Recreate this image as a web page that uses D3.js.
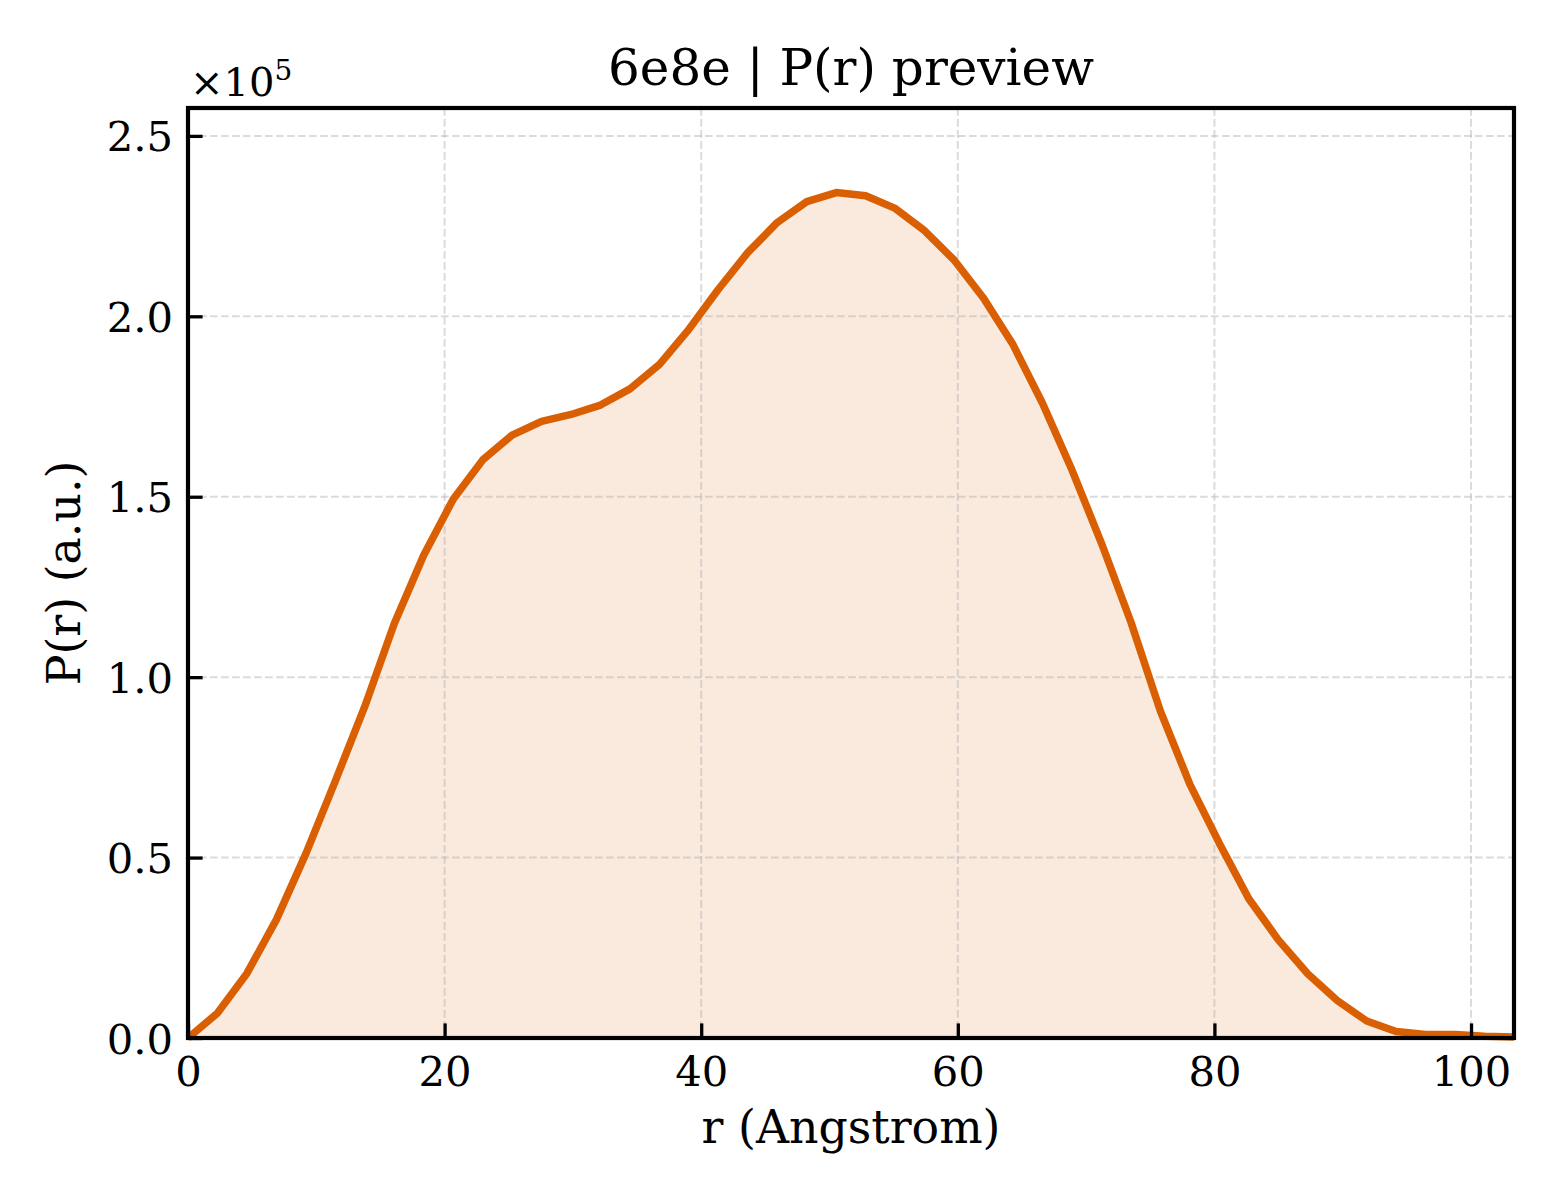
<!DOCTYPE html>
<html>
<head>
<meta charset="utf-8">
<script src="https://cdn.jsdelivr.net/npm/d3@7"></script>
<style>
  body { margin: 0; background: #fff; }
  text { font-family: "DejaVu Serif", serif; fill: #000; }
</style>
</head>
<body>
<div id="chart"></div>
<script>
// distance grid (Angstrom) and P(r)
var rValues = [0.00, 2.30, 4.59, 6.89, 9.19, 11.48, 13.78, 16.08, 18.37, 20.67,
  22.97, 25.26, 27.56, 29.86, 32.15, 34.45, 36.75, 39.04, 41.34, 43.64,
  45.93, 48.23, 50.53, 52.82, 55.12, 57.42, 59.71, 62.01, 64.31, 66.60,
  68.90, 71.20, 73.49, 75.79, 78.09, 80.38, 82.68, 84.98, 87.27, 89.57,
  91.87, 94.16, 96.46, 98.76, 101.05, 103.35];
var prValues = [0, 6900, 17900, 32800, 51100, 71200, 91900, 114900, 133800, 149300,
  160200, 167100, 170900, 172800, 175400, 179900, 186700, 196400, 207500, 217700,
  226000, 231800, 234300, 233400, 229900, 223700, 215600, 205000, 192100, 175900,
  157400, 137100, 115300, 90600, 70300, 54000, 38600, 27200, 17800, 10400,
  4700, 1800, 1000, 1000, 500, 300];
var xTicks = [0, 20, 40, 60, 80, 100];
var yTicks = [0, 50000, 100000, 150000, 200000, 250000];

var titleText = "6e8e | P(r) preview",
    xLabel = "r (Angstrom)",
    yLabel = "P(r) (a.u.)";

var width = 1560,
    height = 1200,
    margin = {left: 188, right: 46, top: 108, bottom: 162};
var plotW = width - margin.left - margin.right,
    plotH = height - margin.top - margin.bottom;

var lineColor = "#d95f02";

var data = rValues.map(function(r, i) { return {r: r, p: prValues[i]}; });

var svg = d3.select("#chart").append("svg")
    .attr("width", width)
    .attr("height", height)
    .style("background", "#fff");

var x = d3.scaleLinear()
    .domain([0, d3.max(rValues)])
    .range([0, plotW]);
var y = d3.scaleLinear()
    .domain([0, 1.1 * d3.max(prValues)])
    .range([plotH, 0]);

var g = svg.append("g")
    .attr("transform", "translate(" + margin.left + "," + margin.top + ")");

/* filled area under the curve */
g.append("path")
    .datum(data)
    .attr("fill", lineColor)
    .attr("fill-opacity", 0.13)
    .attr("d", d3.area()
        .x(function(d) { return x(d.r); })
        .y0(y(0))
        .y1(function(d) { return y(d.p); }));

/* dashed grid */
g.append("g").selectAll("line.gx")
    .data(xTicks)
    .enter().append("line")
    .attr("x1", function(d) { return x(d); })
    .attr("x2", function(d) { return x(d); })
    .attr("y1", 0).attr("y2", plotH)
    .attr("stroke", "#b0b0b0").attr("stroke-opacity", 0.45)
    .attr("stroke-width", 2).attr("stroke-dasharray", "7.7,3.3");
g.append("g").selectAll("line.gy")
    .data(yTicks)
    .enter().append("line")
    .attr("y1", function(d) { return y(d); })
    .attr("y2", function(d) { return y(d); })
    .attr("x1", 0).attr("x2", plotW)
    .attr("stroke", "#b0b0b0").attr("stroke-opacity", 0.45)
    .attr("stroke-width", 2).attr("stroke-dasharray", "7.7,3.3");

/* the P(r) curve */
g.append("path")
    .datum(data)
    .attr("fill", "none")
    .attr("stroke", lineColor)
    .attr("stroke-width", 7.5)
    .attr("stroke-linejoin", "round")
    .attr("d", d3.line()
        .x(function(d) { return x(d.r); })
        .y(function(d) { return y(d.p); }));

/* axes, ticks pointing inward */
var xAxis = g.append("g")
    .attr("transform", "translate(0," + plotH + ")")
    .call(d3.axisBottom(x).tickValues(xTicks).tickSize(-14.6).tickPadding(0)
        .tickFormat(d3.format("d")));
var yAxis = g.append("g")
    .call(d3.axisLeft(y).tickValues(yTicks).tickSize(-14.6).tickPadding(0)
        .tickFormat(function(d) { return (d / 1e5).toFixed(1); }));

[xAxis, yAxis].forEach(function(ax) {
  ax.select(".domain").remove();
  ax.selectAll(".tick line").attr("stroke", "#000").attr("stroke-width", 3.3);
  ax.selectAll(".tick text")
      .style("font-family", "DejaVu Serif, serif")
      .style("font-size", "41.7px")
      .attr("fill", "#000");
});
xAxis.selectAll(".tick text").attr("y", 48).attr("dy", 0);
yAxis.selectAll(".tick text").attr("x", -15).attr("dy", "0.36em");

/* frame */
g.append("rect")
    .attr("width", plotW).attr("height", plotH)
    .attr("fill", "none")
    .attr("stroke", "#000")
    .attr("stroke-width", 4.2);

/* offset text */
var off = svg.append("text")
    .attr("x", margin.left + 2)
    .attr("y", 96)
    .style("font-size", "40px");
off.append("tspan").text("\u00d710");
off.append("tspan").attr("dy", -16).style("font-size", "28px").text("5");

/* title and labels */
svg.append("text")
    .attr("x", margin.left + plotW / 2)
    .attr("y", 85)
    .attr("text-anchor", "middle")
    .style("font-size", "50px")
    .text(titleText);

svg.append("text")
    .attr("x", margin.left + plotW / 2)
    .attr("y", 1143)
    .attr("text-anchor", "middle")
    .style("font-size", "45.8px")
    .text(xLabel);

svg.append("text")
    .attr("transform", "translate(80," + (margin.top + plotH / 2) + ") rotate(-90)")
    .attr("text-anchor", "middle")
    .style("font-size", "45.8px")
    .text(yLabel);
</script>
</body>
</html>
